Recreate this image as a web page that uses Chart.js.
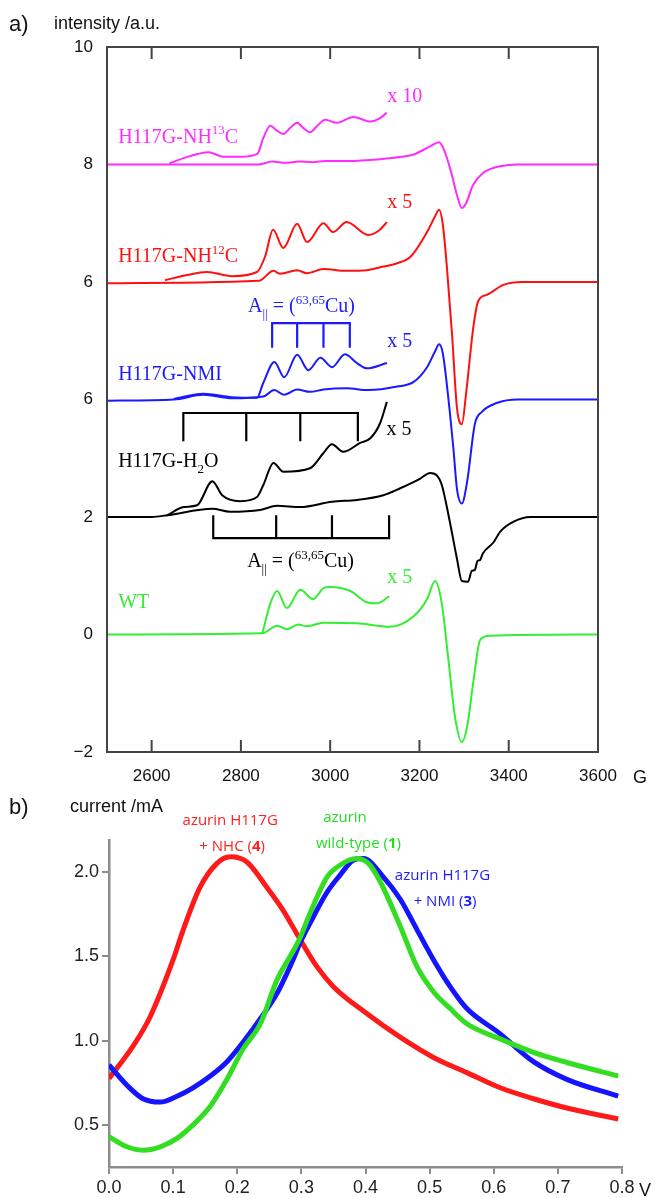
<!DOCTYPE html>
<html>
<head>
<meta charset="utf-8">
<script src="https://cdn.jsdelivr.net/npm/chart.js@4.4.1/dist/chart.umd.min.js"></script>
<style>
  body { margin: 0; background: #fff; width: 655px; height: 1198px; overflow: hidden; position: relative; }
  #eprWrap { position: absolute; left: 0; top: 0; width: 655px; height: 790px; }
  #cvWrap { position: absolute; left: 0; top: 790px; width: 655px; height: 408px; }
</style>
</head>
<body>
<div id="eprWrap"><canvas id="eprChart" width="655" height="790"></canvas></div>
<div id="cvWrap"><canvas id="cvChart" width="655" height="408"></canvas></div>
<script>
// ---- a) EPR spectra (field in G, intensity in a.u., offset per sample) ----
const fieldTicks = [2600, 2800, 3000, 3200, 3400, 3600];
const intensityTicks = [10, 8, 6, 4, 2, 0, -2];
const intensityTickLabels = ["10", "8", "6", "6", "2", "0", "\u22122"];

const nh13Field = [2500, 2840, 2870, 2900, 2930, 2960, 2990, 3040, 3112, 3160, 3187, 3224, 3244, 3255, 3270, 3284, 3295, 3305, 3320, 3343, 3358, 3380, 3420, 3600];
const nh13Main  = [8.0, 8.0, 8.05, 8.03, 8.05, 8.04, 8.06, 8.06, 8.09, 8.13, 8.17, 8.31, 8.38, 8.25, 7.9, 7.48, 7.26, 7.35, 7.65, 7.86, 7.92, 7.97, 8.0, 8.0];
const nh13ZoomField = [2640, 2680, 2727, 2761, 2800, 2837, 2850, 2866, 2880, 2895, 2910, 2926, 2940, 2955, 2970, 2989, 3015, 3052, 3090, 3110, 3127];
const nh13Zoom      = [8.02, 8.13, 8.21, 8.13, 8.13, 8.18, 8.45, 8.66, 8.58, 8.52, 8.62, 8.71, 8.62, 8.55, 8.65, 8.76, 8.71, 8.81, 8.73, 8.78, 8.88];

const nh12Field = [2500, 2840, 2873, 2888, 2926, 2948, 2985, 3037, 3082, 3112, 3150, 3180, 3217, 3235, 3244, 3252, 3261, 3273, 3284, 3295, 3305, 3321, 3332, 3351, 3388, 3430, 3600];
const nh12Main  = [5.98, 6.02, 6.19, 6.14, 6.2, 6.15, 6.22, 6.19, 6.2, 6.25, 6.32, 6.43, 6.85, 7.12, 7.23, 7.0, 6.3, 5.11, 3.86, 3.58, 4.14, 5.25, 5.68, 5.78, 5.95, 6.0, 6.0];
const nh12ZoomField = [2630, 2680, 2724, 2780, 2836, 2854, 2872, 2895, 2926, 2948, 2985, 3006, 3037, 3085, 3110, 3127];
const nh12Zoom      = [6.03, 6.12, 6.17, 6.1, 6.17, 6.43, 6.89, 6.58, 6.99, 6.68, 7.0, 6.85, 7.02, 6.8, 6.88, 7.02];

const nmiField = [2500, 2650, 2716, 2780, 2850, 2875, 2897, 2926, 2955, 2985, 3037, 3085, 3150, 3187, 3217, 3235, 3244, 3252, 3261, 3276, 3284, 3295, 3307, 3324, 3340, 3373, 3420, 3600];
const nmiMain  = [3.98, 4.0, 4.08, 4.02, 4.05, 4.16, 4.08, 4.17, 4.13, 4.17, 4.19, 4.16, 4.22, 4.3, 4.55, 4.82, 4.94, 4.8, 4.28, 3.17, 2.48, 2.23, 2.61, 3.58, 3.79, 3.94, 4.0, 4.0];
const nmiZoomField = [2650, 2716, 2780, 2836, 2850, 2875, 2897, 2926, 2951, 2978, 3004, 3033, 3060, 3082, 3127];
const nmiZoom      = [4.01, 4.1, 4.04, 4.03, 4.28, 4.64, 4.38, 4.76, 4.5, 4.71, 4.55, 4.77, 4.62, 4.53, 4.62];

const waterField = [2500, 2600, 2635, 2736, 2776, 2843, 2881, 2933, 3004, 3060, 3119, 3157, 3201, 3224, 3240, 3250, 3268, 3284, 3295, 3309, 3317, 3324, 3330, 3336, 3342, 3366, 3381, 3411, 3448, 3600];
const waterMain  = [2.0, 2.0, 2.03, 2.14, 2.09, 2.12, 2.19, 2.17, 2.26, 2.29, 2.37, 2.49, 2.65, 2.75, 2.7, 2.55, 1.92, 1.29, 0.91, 0.9, 1.08, 1.1, 1.25, 1.27, 1.38, 1.57, 1.75, 1.92, 2.0, 2.0];
const waterZoomField = [2635, 2672, 2702, 2736, 2758, 2798, 2836, 2850, 2873, 2895, 2955, 2985, 3004, 3029, 3067, 3090, 3112, 3127];
const waterZoom      = [2.03, 2.17, 2.2, 2.61, 2.37, 2.27, 2.34, 2.54, 2.92, 2.77, 2.83, 3.09, 3.24, 3.11, 3.26, 3.34, 3.6, 3.96];

const wtField = [2500, 2848, 2881, 2903, 2928, 2948, 2985, 3060, 3134, 3187, 3217, 3235, 3250, 3265, 3280, 3295, 3307, 3321, 3336, 3358, 3600];
const wtMain  = [0.0, 0.02, 0.15, 0.09, 0.17, 0.14, 0.2, 0.19, 0.13, 0.31, 0.6, 0.91, 0.53, -0.44, -1.42, -1.83, -1.56, -0.79, -0.09, -0.02, 0.0];
const wtZoomField = [2848, 2866, 2881, 2903, 2933, 2962, 2985, 3000, 3045, 3082, 3105, 3132];
const wtZoom      = [0.02, 0.53, 0.74, 0.45, 0.76, 0.6, 0.79, 0.81, 0.74, 0.55, 0.53, 0.65];

// hyperfine combs (line positions in G, levels in a.u.)
const nmiComb = [2870, 2926, 2985, 3044];
const nmiCombLevels = [5.30, 4.88];
const waterUpperComb = [2671, 2812, 2933, 3062];
const waterUpperLevels = [3.77, 3.29];
const waterLowerComb = [2738, 2879, 3004, 3132];
const waterLowerLevels = [1.64, 2.03];

// ---- b) cyclic voltammetry (potential in V, current in mA) ----
const potentialTicks = [0, 0.1, 0.2, 0.3, 0.4, 0.5, 0.6, 0.7, 0.8];
const currentTicks = [0.5, 1.0, 1.5, 2.0];

const nhcPotential = [0, 0.038, 0.064, 0.1, 0.116, 0.142, 0.168, 0.189, 0.215, 0.246, 0.272, 0.298, 0.324, 0.35, 0.402, 0.454, 0.506, 0.558, 0.61, 0.662, 0.714, 0.794];
const nhcCurrent   = [0.775, 0.97, 1.14, 1.48, 1.66, 1.91, 2.05, 2.09, 2.06, 1.91, 1.77, 1.6, 1.44, 1.32, 1.16, 1.02, 0.9, 0.81, 0.72, 0.655, 0.6, 0.535];
const wildPotential = [0, 0.028, 0.053, 0.08, 0.106, 0.131, 0.158, 0.184, 0.209, 0.236, 0.262, 0.287, 0.298, 0.314, 0.34, 0.36, 0.386, 0.405, 0.422, 0.454, 0.48, 0.506, 0.532, 0.558, 0.61, 0.662, 0.714, 0.794];
const wildCurrent   = [0.43, 0.37, 0.35, 0.37, 0.42, 0.5, 0.61, 0.77, 0.95, 1.1, 1.36, 1.53, 1.61, 1.76, 1.97, 2.04, 2.08, 2.05, 1.95, 1.68, 1.44, 1.29, 1.19, 1.1, 1.01, 0.93, 0.87, 0.79];
const nmiPotential = [0, 0.028, 0.053, 0.08, 0.106, 0.131, 0.158, 0.184, 0.209, 0.236, 0.262, 0.287, 0.298, 0.314, 0.34, 0.36, 0.381, 0.397, 0.428, 0.454, 0.48, 0.506, 0.532, 0.558, 0.61, 0.662, 0.714, 0.794];
const nmiCurrent   = [0.855, 0.735, 0.655, 0.635, 0.67, 0.72, 0.79, 0.875, 0.99, 1.13, 1.28, 1.48, 1.58, 1.7, 1.88, 1.98, 2.07, 2.08, 1.97, 1.84, 1.66, 1.48, 1.32, 1.19, 1.04, 0.875, 0.77, 0.67];

const MAGENTA = "#ff2bff", RED = "#ff1010", BLUE = "#1a1aff", BLACK = "#000000", GREEN = "#33ee33";

function pts(xs, ys) {
    return xs.map((x, i) => ({ x: x, y: ys[i] }));
}

// comb: bar at levels[0], ticks running to levels[1]
function comb(xs, levels) {
    const bar = levels[0], tip = levels[1];
    const first = xs[0], last = xs[xs.length - 1];
    const out = [{ x: first, y: tip }, { x: first, y: bar }, { x: last, y: bar }, { x: last, y: tip }];
    xs.slice(1, -1).forEach(x => {
        out.push({ x: x, y: null });
        out.push({ x: x, y: bar });
        out.push({ x: x, y: tip });
    });
    return out;
}

function trace(data, color) {
    return { data: data, borderColor: color, borderWidth: 2, pointRadius: 0, fill: false,
             cubicInterpolationMode: "monotone" };
}
function bracket(data, color) {
    return { data: data, borderColor: color, borderWidth: 2.2, pointRadius: 0, fill: false,
             tension: 0, spanGaps: false };
}

// rich text: parts with sup / sub / bold
function drawRich(ctx, parts, x, y, opt) {
    const size = opt.size, fam = opt.family;
    const fontOf = p => (p.bold ? "bold " : "") + ((p.sup || p.sub) ? Math.round(size * 0.65) : size) + "px " + fam;
    let w = 0;
    parts.forEach(p => { ctx.font = fontOf(p); w += ctx.measureText(p.t).width; });
    let cx = opt.align === "center" ? x - w / 2 : x;
    ctx.fillStyle = opt.color;
    ctx.textAlign = "left";
    ctx.textBaseline = "alphabetic";
    parts.forEach(p => {
        ctx.font = fontOf(p);
        const dy = p.sup ? -size * 0.42 : (p.sub ? size * 0.3 : 0);
        ctx.fillText(p.t, cx, y + dy);
        cx += ctx.measureText(p.t).width;
    });
}

const aParallel = [{ t: "A" }, { t: "||", sub: true }, { t: " = (" }, { t: "63,65", sup: true }, { t: "Cu)" }];
const eprLabels = [
    { parts: [{ t: "H117G-NH" }, { t: "13", sup: true }, { t: "C" }], x: 2525, y: 8.37, color: MAGENTA },
    { parts: [{ t: "x 10" }], x: 3128, y: 9.06, color: MAGENTA },
    { parts: [{ t: "H117G-NH" }, { t: "12", sup: true }, { t: "C" }], x: 2525, y: 6.34, color: RED },
    { parts: [{ t: "x 5" }], x: 3128, y: 7.26, color: RED },
    { parts: aParallel, x: 2816, y: 5.49, color: BLUE },
    { parts: [{ t: "H117G-NMI" }], x: 2525, y: 4.33, color: BLUE },
    { parts: [{ t: "x 5" }], x: 3128, y: 4.89, color: BLUE },
    { parts: [{ t: "H117G-H" }, { t: "2", sub: true }, { t: "O" }], x: 2525, y: 2.85, color: BLACK },
    { parts: [{ t: "x 5" }], x: 3126, y: 3.40, color: BLACK },
    { parts: aParallel, x: 2814, y: 1.15, color: BLACK },
    { parts: [{ t: "WT" }], x: 2525, y: 0.45, color: GREEN },
    { parts: [{ t: "x 5" }], x: 3128, y: 0.88, color: GREEN }
];

const eprDecor = {
    id: "eprDecor",
    afterDraw(chart) {
        const { ctx, chartArea: a, scales: { x, y } } = chart;
        ctx.save();
        ctx.strokeStyle = "#444";
        ctx.lineWidth = 2;
        ctx.strokeRect(a.left, a.top, a.right - a.left, a.bottom - a.top);
        ctx.beginPath();
        x.ticks.forEach(t => {
            const px = x.getPixelForValue(t.value);
            if (px >= a.right - 2) return;
            ctx.moveTo(px, a.top); ctx.lineTo(px, a.top + 12);
            ctx.moveTo(px, a.bottom); ctx.lineTo(px, a.bottom - 12);
        });
        ctx.stroke();

        eprLabels.forEach(l => {
            drawRich(ctx, l.parts, x.getPixelForValue(l.x), y.getPixelForValue(l.y),
                     { size: 20, family: "'Liberation Serif', 'DejaVu Serif', serif", color: l.color });
        });

        ctx.fillStyle = "#111";
        ctx.textBaseline = "alphabetic";
        ctx.font = "22px 'Liberation Sans', Arial, sans-serif";
        ctx.fillText("a)", 9, 31);
        ctx.font = "18px 'Liberation Sans', Arial, sans-serif";
        ctx.fillText("intensity /a.u.", 54, 29);
        ctx.fillText("G", 633, 783);
        ctx.restore();
    }
};

new Chart(document.getElementById("eprChart"), {
    type: "line",
    data: {
        datasets: [
            trace(pts(nh13Field, nh13Main), MAGENTA),
            trace(pts(nh13ZoomField, nh13Zoom), MAGENTA),
            trace(pts(nh12Field, nh12Main), RED),
            trace(pts(nh12ZoomField, nh12Zoom), RED),
            trace(pts(nmiField, nmiMain), BLUE),
            trace(pts(nmiZoomField, nmiZoom), BLUE),
            bracket(comb(nmiComb, nmiCombLevels), BLUE),
            trace(pts(waterField, waterMain), BLACK),
            trace(pts(waterZoomField, waterZoom), BLACK),
            bracket(comb(waterUpperComb, waterUpperLevels), BLACK),
            bracket(comb(waterLowerComb, waterLowerLevels), BLACK),
            trace(pts(wtField, wtMain), GREEN),
            trace(pts(wtZoomField, wtZoom), GREEN)
        ]
    },
    options: {
        responsive: false,
        animation: false,
        layout: { padding: { left: 0, top: 47, right: 57, bottom: 0 } },
        plugins: { legend: { display: false }, tooltip: { enabled: false } },
        scales: {
            x: {
                type: "linear", min: 2500, max: 3600,
                afterBuildTicks: axis => { axis.ticks = fieldTicks.map(v => ({ value: v })); },
                afterFit: axis => { axis.height = 38; },
                grid: { display: false, drawTicks: false },
                border: { display: false },
                ticks: { font: { family: "'Liberation Sans', Arial, sans-serif", size: 17 }, color: "#111",
                         padding: 14, maxRotation: 0, autoSkip: false, callback: v => String(v) }
            },
            y: {
                type: "linear", min: -2, max: 10,
                afterBuildTicks: axis => { axis.ticks = intensityTicks.map(v => ({ value: v })); },
                afterFit: axis => { axis.width = 107; },
                grid: { display: false, drawTicks: false },
                border: { display: false },
                ticks: { font: { family: "'Liberation Sans', Arial, sans-serif", size: 17 }, color: "#111",
                         padding: 14, autoSkip: false,
                         callback: v => intensityTickLabels[intensityTicks.indexOf(v)] }
            }
        }
    },
    plugins: [eprDecor]
});

// ---- b) ----
const cvLabels = [
    { lines: [[{ t: "azurin H117G" }], [{ t: "+ NHC (" }, { t: "4", bold: true }, { t: ")" }]],
      x: [0.189, 0.192], y: [2.28, 2.127], color: "#ff2020" },
    { lines: [[{ t: "azurin" }], [{ t: "wild-type (" }, { t: "1", bold: true }, { t: ")" }]],
      x: [0.368, 0.389], y: [2.295, 2.14], color: "#22dd22" },
    { lines: [[{ t: "azurin H117G" }], [{ t: "+ NMI (" }, { t: "3", bold: true }, { t: ")" }]],
      x: [0.52, 0.524], y: [1.953, 1.80], color: "#1a1aff" }
];

const cvDecor = {
    id: "cvDecor",
    afterDraw(chart) {
        const { ctx, scales: { x, y } } = chart;
        ctx.save();
        cvLabels.forEach(l => {
            l.lines.forEach((parts, i) => {
                drawRich(ctx, parts, x.getPixelForValue(l.x[i]), y.getPixelForValue(l.y[i]),
                         { size: 15, family: "'Open Sans', 'Noto Sans', sans-serif", color: l.color, align: "center" });
            });
        });
        ctx.fillStyle = "#111";
        ctx.textBaseline = "alphabetic";
        ctx.font = "22px 'Liberation Sans', Arial, sans-serif";
        ctx.fillText("b)", 9, 24);
        ctx.font = "18px 'Liberation Sans', Arial, sans-serif";
        ctx.fillText("current /mA", 70, 22);
        ctx.fillText("V", 639, 406);
        ctx.restore();
    }
};

function cvLine(data, color) {
    return { data: data, borderColor: color, borderWidth: 5, pointRadius: 0, fill: false,
             cubicInterpolationMode: "monotone" };
}

new Chart(document.getElementById("cvChart"), {
    type: "line",
    data: {
        datasets: [
            cvLine(pts(wildPotential, wildCurrent), "#33dd22"),
            cvLine(pts(nmiPotential, nmiCurrent), "#1414ff"),
            cvLine(pts(nhcPotential, nhcCurrent), "#ff1a1a")
        ]
    },
    options: {
        responsive: false,
        animation: false,
        layout: { padding: { left: 0, top: 50, right: 33, bottom: 0 } },
        plugins: { legend: { display: false }, tooltip: { enabled: false } },
        scales: {
            x: {
                type: "linear", min: 0, max: 0.8,
                afterBuildTicks: axis => { axis.ticks = potentialTicks.map(v => ({ value: v })); },
                afterFit: axis => { axis.height = 31; },
                grid: { drawOnChartArea: false, drawTicks: true, tickLength: 7, color: "#8c8c8c", lineWidth: 2 },
                border: { display: true, color: "#8c8c8c", width: 2.5 },
                ticks: { font: { family: "'Liberation Sans', Arial, sans-serif", size: 18 }, color: "#222",
                         padding: 3, maxRotation: 0, autoSkip: false, callback: v => v.toFixed(1) }
            },
            y: {
                type: "linear", min: 0.25, max: 2.19,
                afterBuildTicks: axis => { axis.ticks = currentTicks.map(v => ({ value: v })); },
                afterFit: axis => { axis.width = 109; },
                grid: { drawOnChartArea: false, drawTicks: true, tickLength: 7, color: "#8c8c8c", lineWidth: 2 },
                border: { display: true, color: "#8c8c8c", width: 2.5 },
                ticks: { font: { family: "'Liberation Sans', Arial, sans-serif", size: 18 }, color: "#222",
                         padding: 3, autoSkip: false, callback: v => v.toFixed(1) }
            }
        }
    },
    plugins: [cvDecor]
});
</script>
</body>
</html>
